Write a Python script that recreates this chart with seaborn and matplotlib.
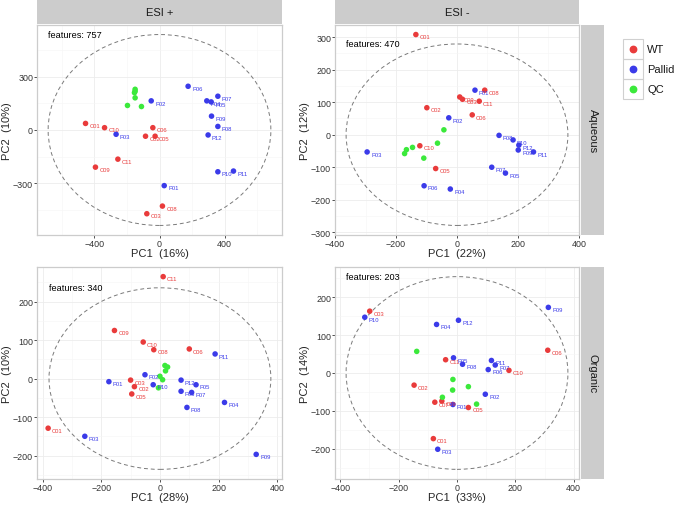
import matplotlib
matplotlib.use("Agg")
import matplotlib.pyplot as plt
import pandas as pd
import seaborn as sns
from matplotlib.lines import Line2D
from matplotlib.patches import Ellipse, Rectangle
from matplotlib.ticker import AutoMinorLocator, MultipleLocator

# ---- data ----
# ESI+ / Aqueous
a_labels = ["C01", "C10", "C06", "C02", "C05", "C11", "C09", "C08", "C03",
            "P06", "P02", "P07", "P04", "P05", "P09", "P08", "P12", "P03", "P10", "P11", "P01",
            "", "", "", "", "", ""]
a_pc1 = [-455, -338, -41, -86, -27, -256, -394, 18, -78,
         176, -51, 359, 291, 318, 320, 359, 299, -267, 359, 455, 29,
         -150, -150, -154, -150, -197, -111]
a_pc2 = [37, 13, 13, -35, -35, -164, -209, -428, -471,
         246, 164, 190, 164, 158, 78, 20, -28, -24, -235, -231, -313,
         229, 218, 210, 181, 138, 132]

# ESI- / Aqueous
b_labels = ["C01", "C08", "C09", "C03", "C11", "C06", "C02", "C10", "C05",
            "P01", "P02", "P03", "P08", "P10", "P12", "P09", "P11", "P07", "P05", "P06", "P04",
            "", "", "", "", "", ""]
b_pc1 = [-135, 91, 9, 18, 73, 50, -99, -122, -70,
         59, -27, -295, 138, 184, 203, 201, 251, 114, 159, -108, -22,
         -43, -64, -146, -166, -172, -109]
b_pc2 = [308, 137, 116, 109, 103, 61, 83, -34, -104,
         137, 52, -53, -2, -16, -32, -47, -53, -100, -118, -157, -167,
         15, -26, -39, -46, -58, -72]

# ESI+ / Organic
c_labels = ["C11", "C09", "C10", "C08", "C06", "C03", "C02", "C05", "C01",
            "P11", "P02", "P01", "P10", "P12", "P05", "P06", "P07", "P08", "P04", "P03", "P09",
            "", "", "", "", "", ""]
c_pc1 = [11, -155, -57, -21, 100, -100, -87, -96, -381,
         188, -51, -174, -23, 72, 123, 72, 108, 92, 220, -256, 328,
         17, 26, 19, 0, 9, -5]
c_pc2 = [265, 125, 95, 75, 77, -4, -21, -40, -129,
         64, 10, -8, -16, -4, -16, -33, -36, -75, -62, -150, -197,
         34, 30, 20, 6, -3, -24]

# ESI- / Organic
d_labels = ["C03", "C06", "C11", "C10", "C02", "C07", "C09", "C05", "C01",
            "P09", "P10", "P04", "P12", "P05", "P08", "P11", "P07", "P06", "P02", "P01", "P03",
            "", "", "", "", "", ""]
d_pc1 = [-299, 311, -39, 178, -147, -76, -52, 39, -81,
         313, -316, -70, 5, -12, 19, 118, 131, 107, 97, -14, -66,
         -138, -14, -15, 39, -50, 67]
d_pc2 = [163, 60, 35, 7, -32, -77, -74, -91, -173,
         173, 147, 128, 139, 40, 23, 33, 21, 9, -56, -83, -201,
         57, -17, -45, -36, -64, -82]

groups = ["WT"] * 9 + ["Pallid"] * 12 + ["QC"] * 6
legend_names = ["WT", "Pallid", "QC"]

ion_modes = ["ESI +", "ESI -"]
phases = ["Aqueous", "Organic"]
pc1_pct = [16, 22, 28, 33]
pc2_pct = [10, 12, 10, 14]
n_features = [757, 470, 340, 203]
ellipse_a = [685, 364, 378, 380]
ellipse_b = [537, 279, 236, 254]
x_step = [400, 200, 200, 200]
y_step = [300, 100, 100, 100]

palette = {"WT": "#E93B3B", "Pallid": "#3B3BE9", "QC": "#3BE93B"}

# ---- figure ----
W, H = 675, 506
sns.set_theme(style="white")
plt.rcParams["font.family"] = ["Liberation Sans", "DejaVu Sans"]
fig = plt.figure(figsize=(W / 100, H / 100), dpi=100)


def box(l, t, r, b):
    return [l / W, 1 - b / H, (r - l) / W, (b - t) / H]


panel_px = [(37, 26, 282, 236), (335, 26, 579, 236),
            (37, 268, 282, 480), (335, 268, 579, 480)]
panel_data = [(a_labels, a_pc1, a_pc2), (b_labels, b_pc1, b_pc2),
              (c_labels, c_pc1, c_pc2), (d_labels, d_pc1, d_pc2)]

for i, (labels, pc1, pc2) in enumerate(panel_data):
    df = pd.DataFrame({"label": labels, "PC1": pc1, "PC2": pc2, "group": groups})
    ax = fig.add_axes(box(*panel_px[i]))
    a, b = ellipse_a[i], ellipse_b[i]

    # limits as ggplot: data + ellipse, 5% expansion
    xmin, xmax = min(df.PC1.min(), -a), max(df.PC1.max(), a)
    ymin, ymax = min(df.PC2.min(), -b), max(df.PC2.max(), b)
    dx, dy = 0.05 * (xmax - xmin), 0.05 * (ymax - ymin)
    ax.set_xlim(xmin - dx, xmax + dx)
    ax.set_ylim(ymin - dy, ymax + dy)

    ax.add_patch(Ellipse((0, 0), 2 * a, 2 * b, fill=False, ls=(0, (4, 3)),
                         ec="#7a7a7a", lw=0.7, zorder=2))
    sns.scatterplot(data=df, x="PC1", y="PC2", hue="group", palette=palette,
                    s=16, linewidth=0, legend=False, ax=ax, zorder=3)
    for _, row in df.iterrows():
        if row.label:
            ax.annotate(row.label, (row.PC1, row.PC2), xytext=(2.8, -1.6),
                        textcoords="offset points", fontsize=4.2,
                        color=palette[row.group], ha="left", va="center", zorder=4)
    ax.text(-a, b, f"features: {n_features[i]}", fontsize=6.6, ha="left",
            va="center", color="black", zorder=5)

    ax.xaxis.set_major_locator(MultipleLocator(x_step[i]))
    ax.yaxis.set_major_locator(MultipleLocator(y_step[i]))
    ax.xaxis.set_minor_locator(AutoMinorLocator(2))
    ax.yaxis.set_minor_locator(AutoMinorLocator(2))
    ax.grid(which="major", color="#ececec", lw=0.6)
    ax.grid(which="minor", color="#f6f6f6", lw=0.4)
    ax.set_axisbelow(True)
    ax.tick_params(which="major", length=2, width=0.6, color="#333333",
                   labelsize=6.4, labelcolor="#333333", pad=0.8,
                   bottom=True, left=True)
    ax.tick_params(which="minor", length=0)
    for sp in ax.spines.values():
        sp.set_color("#cccccc")
        sp.set_linewidth(0.9)
    ax.set_xlabel(f"PC1  ({pc1_pct[i]}%)", fontsize=8, labelpad=0)
    ax.set_ylabel(f"PC2  ({pc2_pct[i]}%)", fontsize=8, labelpad=1)

# facet strips
strip_col = "#cccccc"
for j, (l, r) in enumerate([(37, 282), (335, 579)]):
    sax = fig.add_axes(box(l, 1, r, 25))
    sax.set_facecolor(strip_col)
    sax.set_xticks([]); sax.set_yticks([])
    for sp in sax.spines.values():
        sp.set_visible(False)
    sax.text(0.5, 0.5, ion_modes[j], fontsize=8, ha="center", va="center",
             color="#1a1a1a", transform=sax.transAxes)
for j, (t, bt) in enumerate([(26, 236), (268, 480)]):
    sax = fig.add_axes(box(581, t, 604, bt))
    sax.set_facecolor(strip_col)
    sax.set_xticks([]); sax.set_yticks([])
    for sp in sax.spines.values():
        sp.set_visible(False)
    sax.text(0.5, 0.5, phases[j], fontsize=8, ha="center", va="center",
             rotation=-90, color="#1a1a1a", transform=sax.transAxes)

# legend with boxed keys, ggplot style
for k, name in enumerate(legend_names):
    top = 40 + 20 * k
    fig.patches.append(Rectangle((623 / W, 1 - (top + 20) / H), 20 / W, 20 / H,
                                 transform=fig.transFigure, fill=False,
                                 ec="#d0d0d0", lw=0.8))
    fig.add_artist(Line2D([633 / W], [1 - (top + 10) / H], marker="o", ls="",
                          color=palette[name], markersize=4.6,
                          transform=fig.transFigure))
    fig.text(647 / W, 1 - (top + 10) / H, name, fontsize=8, ha="left",
             va="center", color="#1a1a1a")

fig.savefig("out.png", dpi=100)
